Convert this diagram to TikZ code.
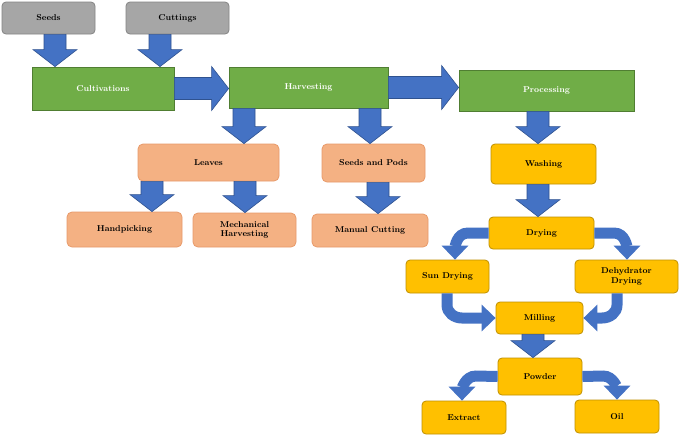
\documentclass[tikz,border=0pt]{standalone}
\usetikzlibrary{calc,arrows.meta}
\definecolor{ablue}{HTML}{4472C4}
\definecolor{ablueD}{HTML}{2F528F}
\definecolor{gbox}{HTML}{70AD47}
\definecolor{gboxD}{HTML}{507E32}
\definecolor{grbox}{HTML}{A6A6A6}
\definecolor{sbox}{HTML}{F4B183}
\definecolor{sboxD}{HTML}{E89A6A}
\definecolor{obox}{HTML}{FFC000}
\definecolor{oboxD}{HTML}{BF9000}
\tikzset{
 box/.style={draw,line width=0.8pt,align=center,font=\bfseries\fontsize{8.5}{9.5}\selectfont,inner sep=1pt},
 gray/.style={box,fill=grbox,draw=grbox!80!black,rounded corners=4pt},
 green/.style={box,fill=gbox,draw=gboxD,text=white},
 salmon/.style={box,fill=sbox,draw=sboxD,rounded corners=5pt},
 orange/.style={box,fill=obox,draw=oboxD,rounded corners=4pt},
 barrow/.style={fill=ablue,draw=ablueD,line width=0.6pt},
 carrow/.style={draw=ablue,line width=11pt,-{Triangle[width=26pt,length=14pt]}},
}
\newcommand\mybox[6]{\node[#1,minimum width=#4pt-#2pt,minimum height=#5pt-#3pt] (#6) at ({(#2+#4)/2},{(#3+#5)/2}) {#6};}
\newcommand\dbar[2]{\path[barrow] let \p1=#1, \p2=#2 in (\x1-11pt,\y1) -- (\x1+11pt,\y1) -- (\x1+11pt,\y2+17pt) -- (\x1+22pt,\y2+17pt) -- (\x1,\y2) -- (\x1-22pt,\y2+17pt) -- (\x1-11pt,\y2+17pt) -- cycle;}
\newcommand\rbar[2]{\path[barrow] let \p1=#1, \p2=#2 in (\x1,\y1+11pt) -- (\x1,\y1-11pt) -- (\x2-17pt,\y1-11pt) -- (\x2-17pt,\y1-22pt) -- (\x2,\y1) -- (\x2-17pt,\y1+22pt) -- (\x2-17pt,\y1+11pt) -- cycle;}
\begin{document}
\begin{tikzpicture}[x=1pt,y=-1pt]
\useasboundingbox[fill=white] (0,0) rectangle (685,440);
\node[gray,minimum width=93pt,minimum height=32pt] (seeds) at (48.5,18) {Seeds};
\node[gray,minimum width=103pt,minimum height=32pt] (cuttings) at (177.5,18) {Cuttings};
\node[green,minimum width=142pt,minimum height=43pt] (cult) at (103,88.5) {Cultivations};
\node[green,minimum width=159pt,minimum height=41pt] (harv) at (308.5,87.5) {Harvesting};
\node[green,minimum width=175pt,minimum height=41pt] (proc) at (546.5,90.5) {Processing};
\node[salmon,minimum width=141pt,minimum height=37pt] (leaves) at (208.5,162.5) {Leaves};
\node[salmon,minimum width=103pt,minimum height=38pt] (sp) at (373.5,163) {Seeds and Pods};
\node[salmon,minimum width=115pt,minimum height=35pt] (hand) at (124.5,229.5) {Handpicking};
\node[salmon,minimum width=103pt,minimum height=34pt] (mech) at (244.5,230) {Mechanical\\Harvesting};
\node[salmon,minimum width=116pt,minimum height=33pt] (man) at (370,230.5) {Manual Cutting};
\node[orange,minimum width=105pt,minimum height=40pt] (wash) at (543.5,164) {Washing};
\node[orange,minimum width=105pt,minimum height=32pt] (dry) at (541.5,233) {Drying};
\node[orange,minimum width=83pt,minimum height=33pt] (sun) at (447.5,276.5) {Sun Drying};
\node[orange,minimum width=103pt,minimum height=33pt] (dehy) at (626.5,276.5) {Dehydrator\\Drying};
\node[orange,minimum width=87pt,minimum height=32pt] (mill) at (539.5,318) {Milling};
\node[orange,minimum width=84pt,minimum height=37pt] (pow) at (540,376.5) {Powder};
\node[orange,minimum width=84pt,minimum height=33pt] (ext) at (464,417.5) {Extract};
\node[orange,minimum width=84pt,minimum height=33pt] (oil) at (617,416.5) {Oil};
% straight block arrows
\dbar{(55,0 |- seeds.south)}{(55,0 |- cult.north)}
\dbar{(160,0 |- cuttings.south)}{(160,0 |- cult.north)}
\rbar{(cult.east)}{(harv.west)}
\rbar{(harv.east)}{(proc.west)}
\dbar{(244,0 |- harv.south)}{(244,0 |- leaves.north)}
\dbar{(370,0 |- harv.south)}{(370,0 |- sp.north)}
\dbar{(152,0 |- leaves.south)}{(152,0 |- hand.north)}
\dbar{(245,0 |- leaves.south)}{(245,0 |- mech.north)}
\dbar{(378,0 |- sp.south)}{(378,0 |- man.north)}
\dbar{(538,0 |- proc.south)}{(538,0 |- wash.north)}
\dbar{(538,0 |- wash.south)}{(538,0 |- dry.north)}
\dbar{(533,0 |- mill.south)}{(533,0 |- pow.north)}
% curved arrows
\draw[carrow] (dry.west) -- (468,233) to[out=180,in=90] (455,0 |- sun.north);
\draw[carrow] (dry.east) -- (614,233) to[out=0,in=90] (627,0 |- dehy.north);
\draw[carrow] (447,0 |- sun.south) -- (447,305) to[out=-90,in=180] (462,318) -- (mill.west);
\draw[carrow] (617,0 |- dehy.south) -- (617,305) to[out=-90,in=0] (602,318) -- (mill.east);
\draw[carrow] (pow.west) -- (476,376) to[out=180,in=90] (462,0 |- ext.north);
\draw[carrow] (pow.east) -- (603,376) to[out=0,in=90] (617,0 |- oil.north);
\end{tikzpicture}
\end{document}
